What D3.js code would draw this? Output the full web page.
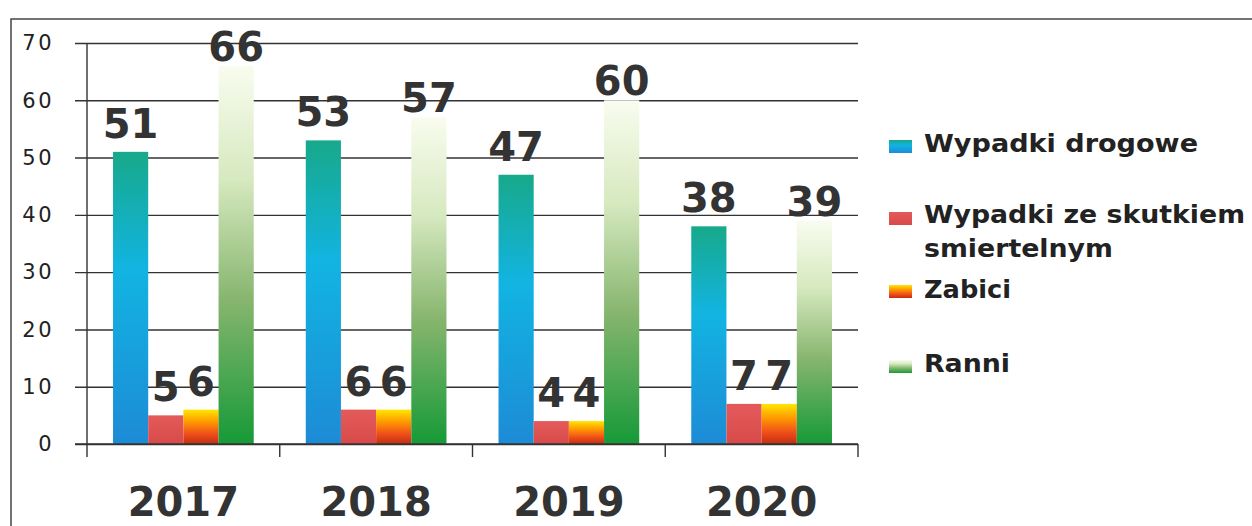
<!DOCTYPE html>
<html><head><meta charset="utf-8">
<script src="https://cdn.jsdelivr.net/npm/d3@7/dist/d3.min.js"></script>
<style>body{margin:0;background:#fff}svg{display:block}</style>
</head><body>
<svg id="c" width="1252" height="526"></svg>
<script>
const categories = ["2017","2018","2019","2020"];
const seriesNames = ["Wypadki drogowe","Wypadki ze skutkiem smiertelnym","Zabici","Ranni"];
const wypadkiDrogowe = [51,53,47,38];
const wypadkiSmiertelne = [5,6,4,7];
const zabici = [6,6,4,7];
const ranni = [66,57,60,39];
const yTicks = [0,10,20,30,40,50,60,70];
const seriesValues = [wypadkiDrogowe, wypadkiSmiertelne, zabici, ranni];

const svg = d3.select("#c");
const defs = svg.append("defs");
const grads = [
  [[0,"#17a98a"],[0.4,"#12b4e2"],[1,"#1d8bd6"]],
  [[0,"#e45a5a"],[1,"#d84a4a"]],
  [[0,"#ffe600"],[0.35,"#ff9a00"],[0.7,"#f0501a"],[1,"#c22e12"]],
  [[0,"#f9fcef"],[0.3,"#d6e9bf"],[0.62,"#86b56e"],[1,"#169a38"]]
];
grads.forEach((g,i)=>{
  const lg = defs.append("linearGradient").attr("id","g"+i).attr("x1",0).attr("y1",0).attr("x2",0).attr("y2",1);
  g.forEach(s=>lg.append("stop").attr("offset",s[0]).attr("stop-color",s[1]));
});

// frame
svg.append("path").attr("d","M11,1300 L11,19 L1400,19").attr("fill","none").attr("stroke","#444").attr("stroke-width",1.5);

const x0 = d3.scaleBand().domain(categories).range([87,858]).paddingInner(0.27).paddingOuter(0.135);
const x1 = d3.scaleBand().domain(d3.range(4)).range([0,x0.bandwidth()]);
const y = d3.scaleLinear().domain([0,70]).range([444,43]);

// gridlines
const yAxis = d3.axisLeft(y).tickValues(yTicks).tickSize(-(858-75)).tickPadding(33).tickFormat(d3.format("d"));
const ga = svg.append("g").attr("transform","translate(75,0)").call(yAxis);
ga.select(".domain").remove();
ga.selectAll(".tick line").attr("stroke","#333").attr("stroke-width",1.4);
ga.selectAll(".tick text").attr("font-family","DejaVu Sans").attr("font-size",21).attr("fill","#222").attr("letter-spacing",2.5).attr("x",-21);

// y axis line
svg.append("line").attr("x1",87).attr("x2",87).attr("y1",y(70)).attr("y2",457).attr("stroke","#333").attr("stroke-width",1.4);
// category ticks
const bounds = categories.map(c=>x0(c)-x0.step()*x0.paddingInner()/2).concat([858]);
svg.selectAll("line.ct").data(bounds.slice(1)).enter().append("line")
  .attr("x1",d=>d).attr("x2",d=>d).attr("y1",y(0)).attr("y2",457).attr("stroke","#333").attr("stroke-width",1.4);

// bars
const groups = svg.selectAll("g.cat").data(categories).enter().append("g").attr("transform",c=>`translate(${x0(c)},0)`);
groups.each(function(c,ci){
  const g = d3.select(this);
  seriesValues.forEach((vals,si)=>{
    g.append("rect").attr("x",x1(si)).attr("width",x1.bandwidth()).attr("y",y(vals[ci])).attr("height",y(0)-y(vals[ci])).attr("fill",`url(#g${si})`);
  });
  seriesValues.forEach((vals,si)=>{
    g.append("text").attr("x",x1(si)+x1.bandwidth()/2).attr("y",y(vals[ci])-(si===3?5:14))
      .attr("text-anchor","middle").attr("font-family","DejaVu Sans").attr("font-weight","bold").attr("font-size",40).attr("fill","#333").text(vals[ci]);
  });
});
// baseline
svg.append("line").attr("x1",75).attr("x2",858).attr("y1",y(0)).attr("y2",y(0)).attr("stroke","#333").attr("stroke-width",1.4);

// x labels
svg.selectAll("text.xl").data(categories).enter().append("text")
  .attr("x",c=>x0(c)+x0.bandwidth()/2).attr("y",516).attr("text-anchor","middle")
  .attr("font-family","DejaVu Sans").attr("font-weight","bold").attr("font-size",40).attr("fill","#333").text(c=>c);

// legend
const legend = [
  {lines:["Wypadki drogowe"], ys:[152], w:[274], my:140},
  {lines:["Wypadki ze skutkiem","smiertelnym"], ys:[223,257], w:[321,189], my:212},
  {lines:["Zabici"], ys:[298], w:[87], my:285},
  {lines:["Ranni"], ys:[372], w:[86], my:360}
];
legend.forEach((l,i)=>{
  svg.append("rect").attr("x",889).attr("y",l.my).attr("width",23).attr("height",13).attr("fill",`url(#g${i})`);
  l.lines.forEach((t,j)=>{
    svg.append("text").attr("x",924).attr("y",l.ys[j]).attr("font-family","DejaVu Sans").attr("font-weight","bold")
      .attr("font-size",24).attr("fill","#222").attr("textLength",l.w[j]).attr("lengthAdjust","spacingAndGlyphs").text(t);
  });
});
</script>
</body></html>
